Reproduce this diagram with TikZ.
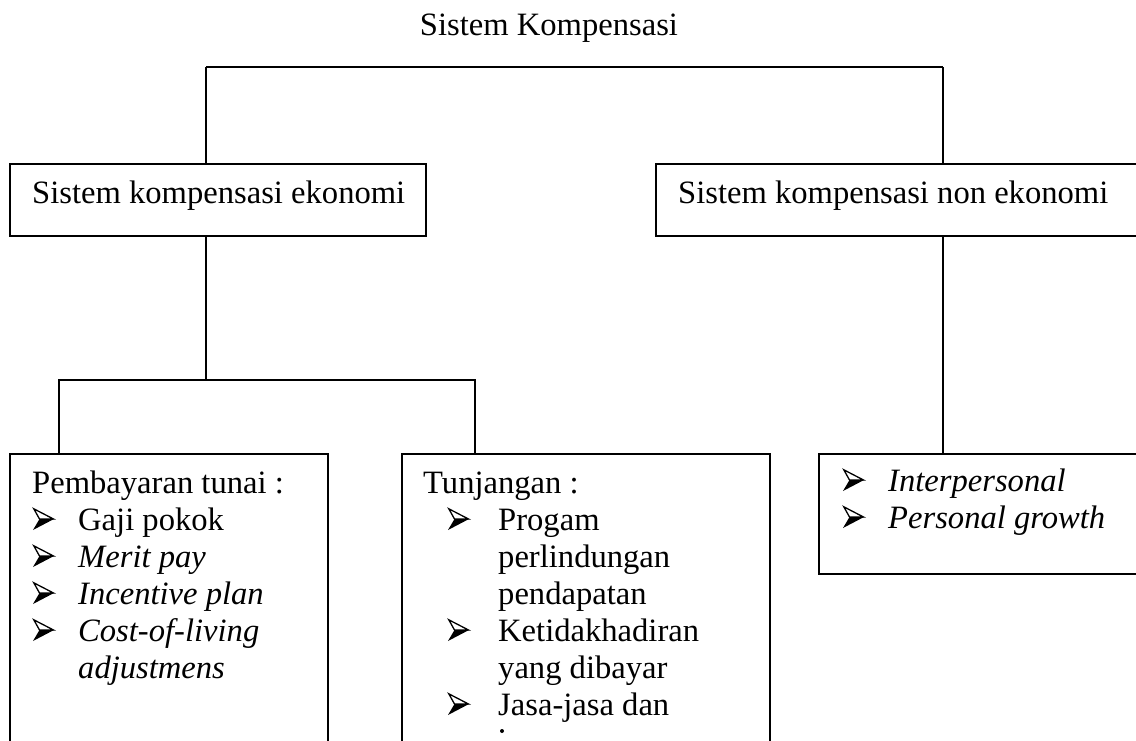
\documentclass[tikz,border=0pt]{standalone}
\usepackage{fontspec}
\setmainfont{Liberation Serif}
\begin{document}
\begin{tikzpicture}[x=1pt,y=-1pt,
  box/.style={draw, line width=2.4pt, anchor=north west, inner sep=0pt},
  conn/.style={line width=1.6pt},
  thickconn/.style={line width=2.4pt},
  txt/.style={anchor=base west, inner sep=0pt, font=\fontsize{32.6}{37}\selectfont},
  ttl/.style={anchor=base, inner sep=0pt, font=\fontsize{32.6}{37}\selectfont},
  arrowbul/.pic={
    \fill (0,11) -- (21,0) -- (6.5,0) -- cycle;
    \draw[line width=1.3pt, line join=miter, miter limit=20] (0.8,-10.2) -- (20.5,0) -- (6.5,0) -- cycle;
  }]
\useasboundingbox (0,0) rectangle (1136,740);
\clip (0,0) rectangle (1136,740);
\fill[white] (0,0) rectangle (1136,740);

% title
\node[ttl] (title) at (549,35) {Sistem Kompensasi};

% boxes
\node[box, minimum width=416pt, minimum height=72pt] (eko) at (9,163) {};
\node[box, minimum width=490pt, minimum height=72pt] (non) at (655,163) {};
\node[box, minimum width=318pt, minimum height=320pt] (tun) at (9,453) {};
\node[box, minimum width=368pt, minimum height=320pt] (tja) at (401,453) {};
\node[box, minimum width=330pt, minimum height=120pt] (nonl) at (818,453) {};

% connector columns
\coordinate (cL) at (206,67);
\coordinate (cR) at (943,67);
\coordinate (ca) at (59,380);
\coordinate (cb) at (475,380);

\draw[conn] (eko.north -| cL) -- (cL);
\draw[thickconn] (cL) -- (cR);
\draw[conn] (cR) -- (non.north -| cR);
\draw[conn] (eko.south -| cL) -- (cL |- ca);
\draw[conn] (tun.north -| ca) -- (ca) -- (cb) -- (tja.north -| cb);
\draw[conn] (non.south -| cR) -- (nonl.north -| cR);

% level 2 texts
\node[txt] (t1) at (32,203) {Sistem kompensasi ekonomi};
\node[txt] (t2) at (678,203) {Sistem kompensasi non ekonomi};

% box A
\node[txt] (a0) at (32,493) {Pembayaran tunai :};
\pic at (33,519) {arrowbul};
\node[txt] (a1) at (78,530) {Gaji pokok};
\pic at (33,556) {arrowbul};
\node[txt] (a2) at (78,567) {\itshape Merit pay};
\pic at (33,593) {arrowbul};
\node[txt] (a3) at (78,604) {\itshape Incentive plan};
\pic at (33,630) {arrowbul};
\node[txt] (a4) at (78,641) {\itshape Cost-of-living};
\node[txt] (a5) at (78,678) {\itshape adjustmens};

% box B
\node[txt] (b0) at (423,493) {Tunjangan :};
\pic at (448,519) {arrowbul};
\node[txt] (b1) at (498,530) {Progam};
\node[txt] (b2) at (498,567) {perlindungan};
\node[txt] (b3) at (498,604) {pendapatan};
\pic at (448,630) {arrowbul};
\node[txt] (b4) at (498,641) {Ketidakhadiran};
\node[txt] (b5) at (498,678) {yang dibayar};
\pic at (448,704) {arrowbul};
\node[txt] (b6) at (498,715) {Jasa-jasa dan};
\fill (502,731) circle (2pt);

% box C
\pic at (843,480) {arrowbul};
\node[txt] (c1) at (888,491) {\itshape Interpersonal};
\pic at (843,517) {arrowbul};
\node[txt] (c2) at (888,528) {\itshape Personal growth};
\end{tikzpicture}
\end{document}
